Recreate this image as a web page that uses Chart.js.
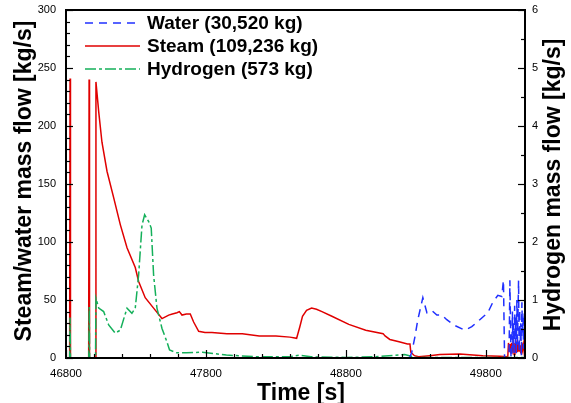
<!DOCTYPE html>
<html>
<head>
<meta charset="utf-8">
<script src="https://cdn.jsdelivr.net/npm/chart.js@4.4.1/dist/chart.umd.min.js"></script>
<style>
  html, body { margin: 0; padding: 0; background: #fff; }
  #wrap { width: 571px; height: 403px; position: relative; }
</style>
</head>
<body>
<div id="wrap"><canvas id="c"></canvas></div>
<script>
Chart.defaults.font.family = "Arial, 'Liberation Sans', sans-serif";
Chart.defaults.color = '#000';

const X_TICKS  = [46800, 47800, 48800, 49800];
const Y_TICKS  = [0, 50, 100, 150, 200, 250, 300];
const H2_TICKS = [0, 1, 2, 3, 4, 5, 6];
const LABELS   = ['Water (30,520 kg)', 'Steam (109,236 kg)', 'Hydrogen (573 kg)'];

/* steam mass flow [kg/s] */
const STEAM_T = [46800, 46826, 46829, 46832, 46962, 46965, 46968, 47011, 47014, 47034, 47057, 47093, 47141, 47188,
  47236, 47295, 47319, 47366, 47426, 47486, 47534, 47560, 47593, 47610, 47629, 47660, 47688, 47712, 47748, 47793,
  47843, 47950, 48060, 48181, 48300, 48400, 48448, 48471, 48490, 48519, 48555, 48590, 48629, 48700, 48821, 48942,
  49066, 49080, 49114, 49180, 49240, 49258, 49264, 49290, 49320, 49400, 49471, 49614, 49779, 49900, 49957, 49962,
  49966, 49972, 49978, 49984, 49990, 49996, 50002, 50008, 50014, 50020, 50026, 50032, 50038, 50044, 50050, 50056,
  50062, 50068, 50074, 50080];
const STEAM_V = [0, 0, 241, 0, 0, 240, 0, 0, 238, 212, 186, 161, 138, 115,
  95, 78, 66, 52, 43, 34, 37, 38, 39, 40, 37, 38, 38, 31, 23, 22,
  22, 21, 21, 19, 19, 18, 17, 27, 36, 41, 43, 42, 40, 36, 29, 24,
  21, 19, 16, 14, 12, 12, 5, 2, 1, 2, 3, 3.5, 2, 1.5, 1, 13,
  6, 12, 4, 13, 7, 12, 3, 13, 8, 12, 5, 13, 6, 11, 4, 13,
  7, 12, 5, 9];

/* water mass flow [kg/s] */
const WATER_T = [49255, 49271, 49293, 49314, 49350, 49379, 49414, 49450, 49486, 49521, 49579, 49650, 49700, 49757,
  49814, 49850, 49886, 49914, 49926, 49934, 49966, 49972, 49980, 49986, 49990, 49994, 49998, 50002, 50006, 50010,
  50014, 50018, 50022, 50026, 50030, 50034, 50038, 50042, 50046, 50050, 50054, 50058, 50062, 50066, 50070, 50074, 50078];
const WATER_V = [0, 5, 18, 33, 52, 39, 41, 37, 37, 33, 28, 24, 27, 33,
  39, 48, 54, 53, 67, 0, 0, 67, 0, 5, 40, 8, 30, 2, 45, 12,
  35, 3, 50, 10, 38, 67, 5, 42, 15, 30, 2, 48, 20, 35, 8, 40, 18];

/* hydrogen mass flow [kg/s] */
const H2_T = [46800, 46826, 46829, 46832, 46963, 46966, 46969, 47011, 47014, 47034, 47069, 47105, 47152, 47188,
  47236, 47271, 47295, 47319, 47343, 47362, 47391, 47409, 47426, 47450, 47486, 47521, 47540, 47590, 47661, 47775,
  47946, 48181, 48400, 48470, 48550, 48800, 49000, 49220, 49300, 49600, 50080];
const H2_V = [0, 0, 0.7, 0, 0, 0.88, 0, 0, 1.03, 0.86, 0.80, 0.57, 0.43, 0.48,
  0.86, 0.77, 0.86, 1.43, 2.29, 2.47, 2.35, 2.24, 1.43, 0.86, 0.51, 0.28, 0.14, 0.09, 0.09, 0.1,
  0.05, 0.02, 0.02, 0.05, 0.02, 0.01, 0.02, 0.06, 0.01, 0.01, 0.01];

const pts = (T, V) => T.map((t, i) => ({ x: t, y: V[i] }));

const frame = {
  id: 'frame',
  afterDatasetsDraw(chart) {
    const { ctx, chartArea: a, scales } = chart;
    ctx.save();
    ctx.strokeStyle = '#000';
    ctx.lineWidth = 1.2;
    const tick = (x1, y1, x2, y2) => { ctx.beginPath(); ctx.moveTo(x1, y1); ctx.lineTo(x2, y2); ctx.stroke(); };
    for (let v = 46800; v <= 50080; v += 200) {
      const x = Math.round(scales.x.getPixelForValue(v)) + 0.5;
      tick(x, a.bottom, x, a.bottom - ((v - 46800) % 1000 === 0 ? 8 : 4));
    }
    for (let v = 0; v <= 300; v += 10) {
      const y = Math.round(scales.y.getPixelForValue(v)) + 0.5;
      tick(a.left, y, a.left + (v % 50 === 0 ? 7 : 4), y);
    }
    for (let v = 0; v <= 6; v += 0.5) {
      const y = Math.round(scales.y2.getPixelForValue(v)) + 0.5;
      tick(a.right, y, a.right - (v % 1 === 0 ? 7 : 4), y);
    }
    ctx.lineWidth = 2;
    ctx.strokeRect(a.left, a.top, a.right - a.left, a.bottom - a.top);

    // legend
    ctx.font = 'bold 19px Arial, "Liberation Sans", sans-serif';
    ctx.textBaseline = 'middle';
    ctx.textAlign = 'left';
    chart.data.datasets.forEach((ds, i) => {
      const y = 23 + i * 23;
      ctx.strokeStyle = ds.borderColor;
      ctx.lineWidth = 1.5;
      ctx.setLineDash(ds.borderDash || []);
      tick(85, y, 140, y);
      ctx.setLineDash([]);
      ctx.fillStyle = '#000';
      ctx.fillText(ds.label, 147, y + 1);
    });

    // axis titles
    ctx.font = 'bold 23px Arial, "Liberation Sans", sans-serif';
    ctx.textBaseline = 'alphabetic';
    ctx.textAlign = 'center';
    ctx.fillText('Time [s]', 301, 400);
    ctx.translate(31, 181);
    ctx.rotate(-Math.PI / 2);
    ctx.fillText('Steam/water mass flow [kg/s]', 0, 0);
    ctx.setTransform(1, 0, 0, 1, 0, 0);
    ctx.translate(560, 185);
    ctx.rotate(-Math.PI / 2);
    ctx.fillText('Hydrogen mass flow [kg/s]', 0, 0);
    ctx.restore();
  },
};

const fitV = w => s => { s.width = w; s.paddingTop = 0; s.paddingBottom = 0; };

new Chart(document.getElementById('c'), {
  type: 'line',
  data: {
    datasets: [
      { label: LABELS[0], data: pts(WATER_T, WATER_V), yAxisID: 'y', borderColor: '#2030ff', borderDash: [8, 6], order: 0 },
      { label: LABELS[1], data: pts(STEAM_T, STEAM_V), yAxisID: 'y', borderColor: '#e00000', order: 2 },
      { label: LABELS[2], data: pts(H2_T, H2_V), yAxisID: 'y2', borderColor: '#14b05a', borderDash: [11, 3, 3, 3], order: 1 },
    ],
  },
  options: {
    responsive: true, maintainAspectRatio: false, animation: false,
    layout: { padding: { top: 10, left: 0, right: 0, bottom: 0 } },
    elements: { line: { borderWidth: 1.5, tension: 0, fill: false }, point: { radius: 0 } },
    plugins: { legend: { display: false }, tooltip: { enabled: false } },
    scales: {
      x: {
        type: 'linear', min: 46800, max: 50080,
        afterBuildTicks: s => { s.ticks = X_TICKS.map(v => ({ value: v })); },
        afterFit: s => { s.height = 45; s.paddingLeft = 0; s.paddingRight = 0; },
        grid: { display: false, drawTicks: false }, border: { display: false },
        ticks: { font: { size: 11.5 }, padding: 9, maxRotation: 0, autoSkip: false, callback: v => String(v) },
      },
      y: {
        min: 0, max: 300,
        afterBuildTicks: s => { s.ticks = Y_TICKS.map(v => ({ value: v })); },
        afterFit: fitV(66),
        grid: { display: false, drawTicks: false }, border: { display: false },
        ticks: { font: { size: 11 }, padding: 10, callback: v => String(v) },
      },
      y2: {
        position: 'right', min: 0, max: 6,
        afterBuildTicks: s => { s.ticks = H2_TICKS.map(v => ({ value: v })); },
        afterFit: fitV(46),
        grid: { display: false, drawTicks: false }, border: { display: false },
        ticks: { font: { size: 11 }, padding: 7, callback: v => String(v) },
      },
    },
  },
  plugins: [frame],
});
</script>
</body>
</html>
